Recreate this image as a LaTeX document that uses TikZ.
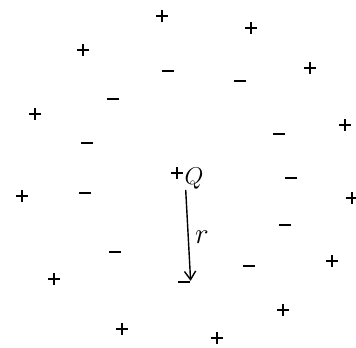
\documentclass[tikz,border=0pt]{standalone}
\usepackage{tikz}
\usetikzlibrary{arrows.meta}

\begin{document}
\begin{tikzpicture}[x=0.025cm, y=-0.025cm, >={Straight Barb[length=6pt, width=8pt, line width=1pt]},
  plus/.style={minimum size=8.5pt, inner sep=0pt,
    path picture={\draw[line width=1.1pt]
      (path picture bounding box.north) -- (path picture bounding box.south)
      (path picture bounding box.west) -- (path picture bounding box.east);}},
  minus/.style={fill, minimum width=9pt, minimum height=1.2pt, inner sep=0pt}]
  \useasboundingbox (0,0) rectangle (356,348);

  % positive charges
  \foreach \x/\y [count=\i] in {162/16, 251/28, 83/50, 310/68, 35/114, 345/125,
      22/196, 352/198, 332/261, 54/279, 283/310, 122/329, 217/338}
    \node[plus] (p\i) at (\x,\y) {};

  % negative charges
  \foreach \x/\y [count=\i] in {168/71, 240/81, 113/99, 279/134, 87/143, 85/193,
      291/178, 285/225, 115/252, 249/266}
    \node[minus] (m\i) at (\x,\y) {};

  % the charge Q and the distance r
  \node[plus] (qplus) at (177,173) {};
  \node[inner sep=0pt, font=\LARGE] (Q) at (194,179) {$Q$};
  \node[minus] (tip) at (184,282) {};
  \draw[->, line width=1pt] ([xshift=1pt]Q.south west) -- (tip.north east);
  \node[font=\huge] (r) at (202,237) {$r$};
\end{tikzpicture}
\end{document}
